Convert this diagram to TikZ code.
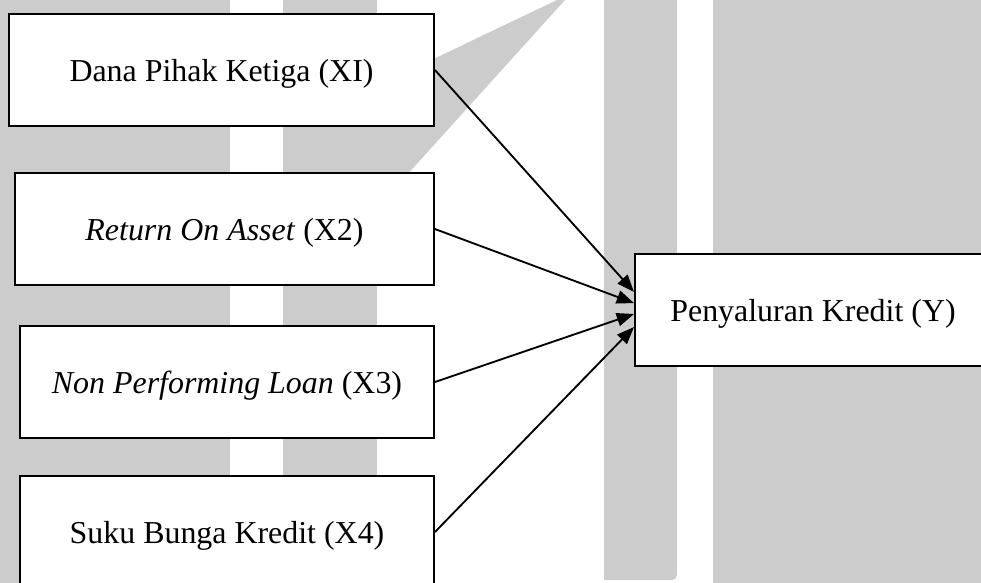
\documentclass[tikz,border=0pt]{standalone}
\usepackage{fontspec}
\setmainfont{Liberation Serif}
\usetikzlibrary{arrows.meta}
\definecolor{wm}{HTML}{CCCCCC}
\tikzset{
	var/.style={draw, fill=white, line width=0.7pt, inner sep=0pt, minimum height=42.1pt, text height=10.5pt, text depth=1.5pt, font=\fontsize{12}{14}\selectfont},
}
\begin{document}
\begin{tikzpicture}[x=0.376pt, y=-0.376pt, >={Triangle[length=6.5pt,width=5pt]}, line width=0.7pt]
			\clip (0,0) rectangle (981,583);
			\fill[wm] (0,0) rectangle (230,583);
			\fill[wm] (283,0) rectangle (377,583);
			\fill[wm] (377,86) -- (557,0) -- (565,0) -- (377,208) -- cycle;
			\fill[wm] (604,0) -- (604,580) -- (672,580) to[out=0,in=-90] (677,575) -- (677,0) -- cycle;
			\fill[wm] (713,0) rectangle (981,583);

			\node[var, minimum width=159.8pt] (x1) at (221.5,70) {Dana Pihak Ketiga (XI)};
			\node[var, minimum width=157.5pt] (x2) at (224.5,229) {\textit{Return On Asset} (X2)};
			\node[var, minimum width=155.7pt] (x3) at (227,382) {\textit{Non Performing Loan} (X3)};
			\node[var, minimum width=155.7pt] (x4) at (227,532) {Suku Bunga Kredit (X4)};
			\node[var, minimum width=133.9pt] (y) at (813,310) {Penyaluran Kredit (Y)};
			\draw[->] (x1.east) to ([yshift=6.8pt]y.west);
			\draw[->] (x2.east) to ([yshift=2.6pt]y.west);
			\draw[->] (x3.east) to ([yshift=-1.5pt]y.west);
			\draw[->] (x4.east) to ([yshift=-6.4pt]y.west);
\end{tikzpicture}
\end{document}
